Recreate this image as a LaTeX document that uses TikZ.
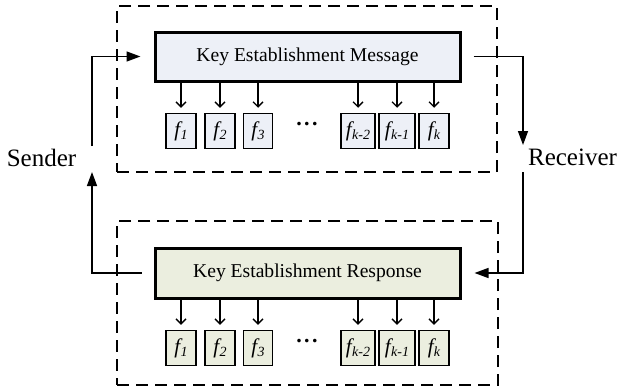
\documentclass[tikz,border=0pt]{standalone}
\usepackage{fontspec}
\setmainfont{Liberation Serif}
\usetikzlibrary{arrows.meta,calc}
\definecolor{msgfill}{HTML}{EDF0F7}
\definecolor{respfill}{HTML}{EBEEDF}
\newcommand{\fsub}[1]{\textit{f\kern0.3pt\raisebox{-3pt}{\fontsize{14}{16}\selectfont #1}}}
\tikzset{
  mainbox/.style={draw, line width=3pt, minimum width=305pt, minimum height=49pt, inner sep=0pt,
    font=\fontsize{19.6}{22}\selectfont},
  fbox/.style={draw, line width=1.5pt, minimum height=35pt, inner sep=0pt, font=\fontsize{21}{23}\selectfont},
  dashbox/.style={draw, line width=1.5pt, dash pattern=on 12pt off 7pt, inner sep=0pt},
  smallarr/.style={line width=1.3pt, -{Straight Barb[length=5pt,width=10pt,line width=1.3pt]}, shorten >=5pt},
  bigarr/.style={line width=1.5pt, -{Triangle[length=14pt,width=10pt]}},
  lbl/.style={font=\fontsize{25}{28}\selectfont, anchor=base},
  dots/.style={font=\fontsize{22}{24}\selectfont\bfseries}
}
\begin{document}
\begin{tikzpicture}[x=1pt,y=-1pt]
\useasboundingbox (0,0) rectangle (619,391);
% dashed groups
\node[dashbox, minimum width=380pt, minimum height=166pt] (gu) at (307,89) {};
\node[dashbox, minimum width=381pt, minimum height=164pt] (gd) at (307.5,303) {};
% main boxes
\node[mainbox, fill=msgfill] (msg) at (307.5,56.5) {Key Establishment Message};
\node[mainbox, fill=respfill, minimum height=50pt] (resp) at (307.5,273) {Key Establishment Response};
% field boxes upper
\node[fbox, fill=msgfill, minimum width=30pt] (u1) at (181,131) {\fsub{1}};
\node[fbox, fill=msgfill, minimum width=30pt] (u2) at (220,131) {\fsub{2}};
\node[fbox, fill=msgfill, minimum width=29pt] (u3) at (258,131) {\fsub{3}};
\node[fbox, fill=msgfill, minimum width=34pt] (u4) at (358,131) {\fsub{k-2}};
\node[fbox, fill=msgfill, minimum width=36pt] (u5) at (397,131) {\fsub{k-1}};
\node[fbox, fill=msgfill, minimum width=30pt] (u6) at (434,131) {\fsub{k}};
\node[dots] (ud) at (307,124) {.\kern2.5pt.\kern2.5pt.};
% field boxes lower
\node[fbox, fill=respfill, minimum width=30pt] (d1) at (181,348) {\fsub{1}};
\node[fbox, fill=respfill, minimum width=30pt] (d2) at (220,348) {\fsub{2}};
\node[fbox, fill=respfill, minimum width=29pt] (d3) at (258,348) {\fsub{3}};
\node[fbox, fill=respfill, minimum width=34pt] (d4) at (358,348) {\fsub{k-2}};
\node[fbox, fill=respfill, minimum width=36pt] (d5) at (397,348) {\fsub{k-1}};
\node[fbox, fill=respfill, minimum width=30pt] (d6) at (434,348) {\fsub{k}};
\node[dots] (dd) at (307,341) {.\kern2.5pt.\kern2.5pt.};
% small arrows
\foreach \i in {1,...,6}{
  \draw[smallarr] (msg.south -| u\i) -- (u\i.north);
  \draw[smallarr] (resp.south -| d\i) -- (d\i.north);
}
% labels
\node[lbl] (sender) at (41.5,166) {Sender};
\node[lbl] (receiver) at (572.5,165) {Receiver};
% connectors
\coordinate (sU) at (92,146);
\coordinate (sD) at (92,172);
\coordinate (rU) at (523,145);
\coordinate (rD) at (523,172);
\draw[bigarr] (sU) |- ([xshift=-13pt]msg.west);
\draw[bigarr] ([xshift=-12pt]resp.west) -| (sD);
\draw[bigarr] ([xshift=12pt]msg.east) -| (rU);
\draw[bigarr] (rD) |- ([xshift=13pt]resp.east);
\end{tikzpicture}
\end{document}
